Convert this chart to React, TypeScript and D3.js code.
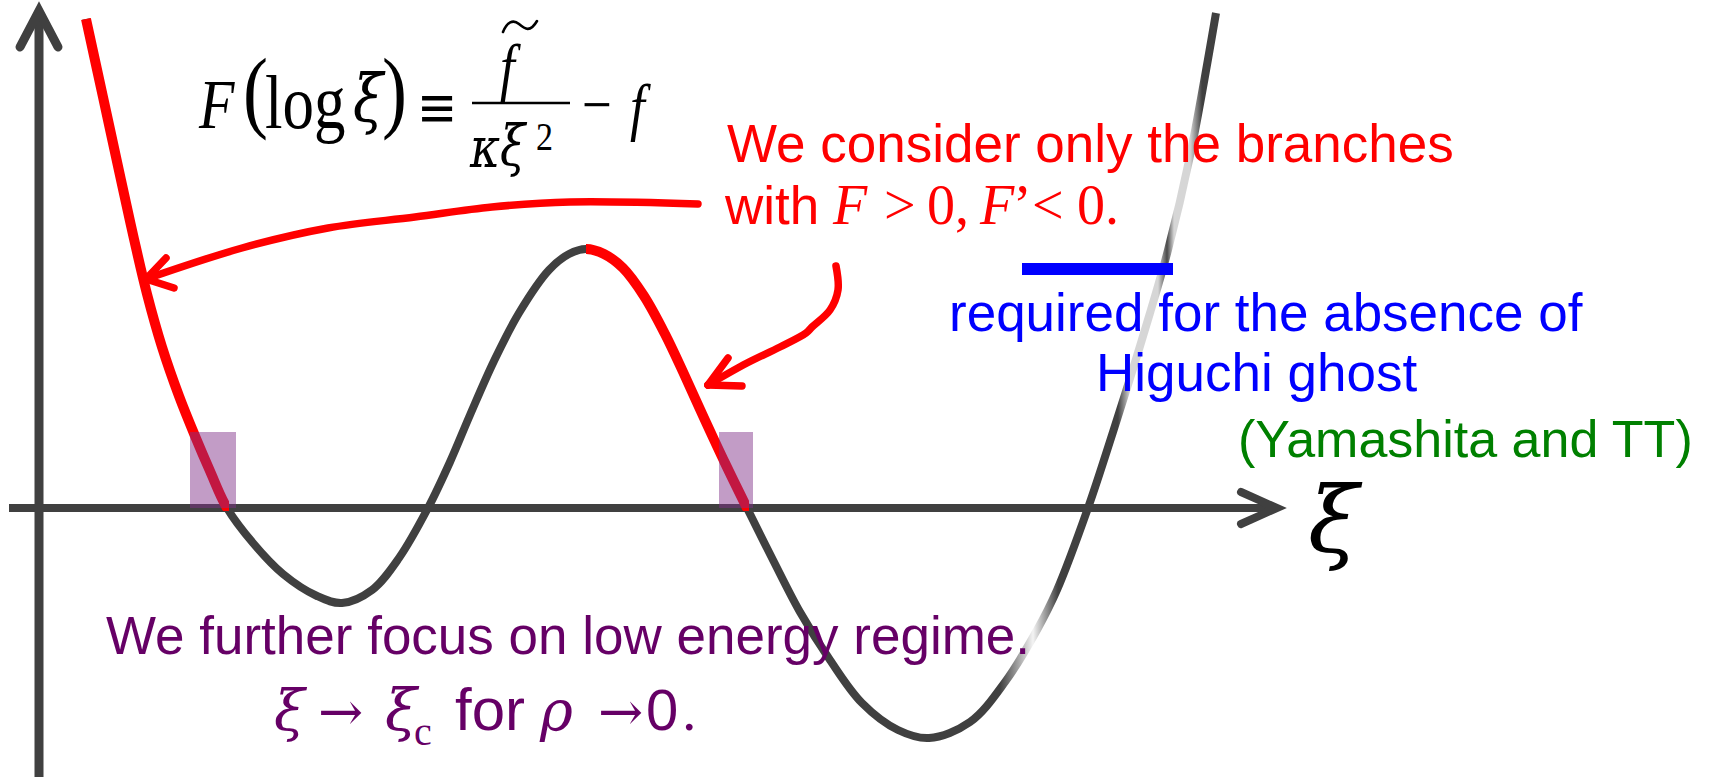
import React from 'react';
import * as d3 from 'd3';

const W = 1714;
const H = 777;

// Sketch of F(log ξ): sampled points (ξ, F)
const curveXi = [0.47, 0.64, 0.82, 0.95, 1.08, 1.23, 1.40, 1.56, 1.71, 1.88, 2.14, 2.44, 2.78, 3.03, 3.33, 3.60, 3.89, 4.11, 4.31, 4.55, 4.80, 5.10, 5.30, 5.47, 5.65, 5.84, 6.05, 6.26, 6.45, 6.65, 6.86, 7.08, 7.34, 7.61, 7.91, 8.23, 8.59, 8.90, 9.31, 9.66, 9.98, 10.18, 10.49, 10.74, 10.93, 11.11, 11.29, 11.51, 11.77];
const curveF = [4.89, 4.11, 3.28, 2.69, 2.14, 1.61, 1.12, 0.72, 0.37, 0, -0.35, -0.66, -0.88, -0.95, -0.82, -0.50, 0, 0.46, 0.93, 1.47, 1.95, 2.38, 2.54, 2.59, 2.54, 2.40, 2.12, 1.74, 1.34, 0.90, 0.45, 0, -0.52, -1.04, -1.52, -1.95, -2.22, -2.30, -2.14, -1.74, -1.22, -0.82, 0, 0.76, 1.36, 1.95, 2.58, 3.52, 4.95];

// Branches with F > 0 and F' < 0 (ξ intervals)
const branchStart = [0.0, 5.47];
const branchEnd = [1.90, 7.10];

// Low-energy windows around the roots
const windowStart = [1.51, 6.80];
const windowEnd = [1.97, 7.14];
const windowTop = 0.76;

// Bound required for the absence of the Higuchi ghost
const ghostXi = [9.83, 11.34];
const ghostF = 2.39;

// Metallic sheen along the rising right branch
const sheenXi = [9.61, 9.94, 10.19, 10.79, 10.91, 11.19, 11.28, 11.35, 11.51, 11.63];
const sheenColor = ['#404040', '#f4f4f4', '#404040', '#404040', '#d6d6d6', '#d6d6d6', '#4a4a4a', '#d6d6d6', '#d6d6d6', '#404040'];

// Annotation arrows (ξ, F)
const arrowAXi = [6.59, 5.31, 4.53, 3.76, 2.89, 2.03, 1.07];
const arrowAF = [3.04, 3.06, 3.01, 2.91, 2.80, 2.60, 2.29];
const arrowAWingXi = [1.27, 1.35];
const arrowAWingF = [2.50, 2.20];

const arrowBXi = [7.97, 7.99, 7.91, 7.73, 7.67, 7.41, 7.08, 6.69];
const arrowBF = [2.42, 2.18, 1.98, 1.81, 1.75, 1.61, 1.45, 1.23];
const arrowBWingXi = [6.89, 7.03];
const arrowBWingF = [1.50, 1.22];

const x = d3.scaleLinear().domain([0, 12.38]).range([39, 1277]);
const y = d3.scaleLinear().domain([0, 4.97]).range([508, 11]);

const SANS = '"Liberation Sans", Arial, sans-serif';
const SERIF = '"Liberation Serif", "Times New Roman", serif';
const GREEK = '"DejaVu Serif", serif';
const AXIS = '#404040';
const RED = '#ff0000';
const PURPLE = '#660066';

const zip = (a: number[], b: number[]) => a.map((v, i) => [v, b[i]] as [number, number]);

const smoothGen = d3
  .line<[number, number]>()
  .x((d) => x(d[0]))
  .y((d) => y(d[1]))
  .curve(d3.curveCatmullRom.alpha(0.5));
const curvePath = smoothGen(zip(curveXi, curveF)) || '';

function Arrow({ xs, fs, wx, wf }: { xs: number[]; fs: number[]; wx: number[]; wf: number[] }) {
  const pts = zip(xs, fs);
  const tip = pts[pts.length - 1];
  const wings = zip(wx, wf);
  return (
    <g fill="none" stroke={RED} strokeWidth={7.5} strokeLinecap="round" strokeLinejoin="round">
      <path d={smoothGen(pts) || ''} />
      {wings.map((w, i) => (
        <line key={i} x1={x(tip[0])} y1={y(tip[1])} x2={x(w[0])} y2={y(w[1])} />
      ))}
    </g>
  );
}

// Glyphs of the definition are set slightly taller than wide
function M({ px, py, size, italic, family, children }: { px: number; py: number; size: number; italic?: boolean; family?: string; children: React.ReactNode }) {
  return (
    <g transform={`translate(${px},${py}) scale(1,1.2)`}>
      <text x={0} y={0} fontFamily={family || SERIF} fontSize={size} fontStyle={italic ? 'italic' : 'normal'} fill="#000">
        {children}
      </text>
    </g>
  );
}

export default function App() {
  const x0 = x(0);
  const y0 = y(0);
  const axisLeft = x(-0.3);
  const axisRight = x(12.38);
  const axisTop = y(4.97);
  return (
    <svg width={W} height={H} style={{ position: 'absolute', left: 0, top: 0, background: '#fff' }}>
      <defs>
        <linearGradient id="sheen" gradientUnits="userSpaceOnUse" x1={0} y1={0} x2={W} y2={0}>
          {sheenXi.map((v, i) => (
            <stop key={i} offset={x(v) / W} stopColor={sheenColor[i]} />
          ))}
        </linearGradient>
        {branchStart.map((b, i) => (
          <clipPath id={`branch${i}`} key={i}>
            <rect x={x(b)} y={0} width={x(branchEnd[i]) - x(b)} height={y0 + 3} />
          </clipPath>
        ))}
      </defs>

      {/* axes */}
      <g stroke={AXIS} fill="none">
        <line x1={axisLeft} x2={axisRight - 2} y1={y0} y2={y0} strokeWidth={8} />
        <polyline points={`${axisRight - 36},${y0 - 16} ${axisRight},${y0} ${axisRight - 36},${y0 + 16}`} strokeWidth={8} strokeLinecap="round" strokeLinejoin="miter" />
        <line x1={x0} x2={x0} y1={H} y2={axisTop + 2} strokeWidth={9} />
        <polyline points={`${x0 - 19},${axisTop + 36} ${x0},${axisTop} ${x0 + 19},${axisTop + 36}`} strokeWidth={9} strokeLinecap="round" strokeLinejoin="miter" />
      </g>

      {/* F(log ξ) */}
      <path d={curvePath} fill="none" stroke="url(#sheen)" strokeWidth={8} />

      {/* highlighted branches */}
      {branchStart.map((_, i) => (
        <path key={i} d={curvePath} fill="none" stroke={RED} strokeWidth={10} clipPath={`url(#branch${i})`} />
      ))}

      {/* low-energy windows */}
      {windowStart.map((s, i) => (
        <rect key={i} x={x(s)} y={y(windowTop)} width={x(windowEnd[i]) - x(s)} height={y0 - y(windowTop)} fill="rgb(128,48,136)" fillOpacity={0.48} />
      ))}

      {/* ghost-free bound */}
      <rect x={x(ghostXi[0])} y={y(ghostF) - 6} width={x(ghostXi[1]) - x(ghostXi[0])} height={12} fill="#0000ff" />

      {/* axis label */}
      <text x={1308} y={552} fontFamily={GREEK} fontStyle="italic" fontSize={92} fill="#000">ξ</text>

      {/* definition */}
      <M px={199} py={128} size={58} italic>F</M>
      <M px={243} py={121} size={75}>(</M>
      <M px={265} py={128} size={63}>log</M>
      <M px={353} py={121} size={55} italic family={GREEK}>ξ</M>
      <M px={382} py={121} size={75}>)</M>
      <M px={417} py={127} size={48} family={GREEK}>≡</M>
      <line x1={472} x2={570} y1={103} y2={103} stroke="#000" strokeWidth={2.6} />
      <M px={500} py={88} size={53} italic>f</M>
      <path d="M503,32 C507,22 513,19 519,24 S530,33 537,21" fill="none" stroke="#000" strokeWidth={2.6} strokeLinecap="round" />
      <M px={470} py={167} size={46} italic family={GREEK}>κ</M>
      <M px={500} py={165} size={46} italic family={GREEK}>ξ</M>
      <M px={536} py={150} size={34}>2</M>
      <M px={582} py={126} size={53}>−</M>
      <M px={630} py={128} size={53} italic>f</M>

      {/* red note */}
      <text x={727} y={162} fontFamily={SANS} fontSize={53} fill={RED}>We consider only the branches</text>
      <text y={224} fill={RED}>
        <tspan x={725} fontFamily={SANS} fontSize={53}>with</tspan>
        <tspan x={833} fontFamily={SERIF} fontStyle="italic" fontSize={56}>F</tspan>
        <tspan x={884} fontFamily={SERIF} fontSize={56}>&gt;</tspan>
        <tspan x={927} fontFamily={SERIF} fontSize={56}>0,</tspan>
        <tspan x={980} fontFamily={SERIF} fontStyle="italic" fontSize={56}>F</tspan>
        <tspan x={1013} fontFamily={SERIF} fontSize={56}>’</tspan>
        <tspan x={1032} fontFamily={SERIF} fontSize={56}>&lt;</tspan>
        <tspan x={1077} fontFamily={SERIF} fontSize={56}>0.</tspan>
      </text>

      {/* blue note */}
      <text x={949} y={331} fontFamily={SANS} fontSize={53} fill="#0000ff">required for the absence of</text>
      <text x={1096} y={391} fontFamily={SANS} fontSize={53} fill="#0000ff">Higuchi ghost</text>
      <text x={1238} y={457} fontFamily={SANS} fontSize={52} fill="#008000">(Yamashita and TT)</text>

      {/* purple note */}
      <text x={106} y={654} fontFamily={SANS} fontSize={53} fill={PURPLE}>We further focus on low energy regime.</text>
      <text y={730} fill={PURPLE}>
        <tspan x={274} fontFamily={GREEK} fontStyle="italic" fontSize={56}>ξ</tspan>
        <tspan x={318} fontFamily={GREEK} fontSize={54}>→</tspan>
        <tspan x={385} fontFamily={GREEK} fontStyle="italic" fontSize={58}>ξ</tspan>
        <tspan x={414} y={745} fontFamily={SERIF} fontSize={40}>c</tspan>
        <tspan x={455} y={730} fontFamily={SANS} fontSize={60}>for</tspan>
        <tspan x={540} fontFamily={GREEK} fontStyle="italic" fontSize={56}>ρ</tspan>
        <tspan x={598} fontFamily={GREEK} fontSize={54}>→</tspan>
        <tspan x={646} fontFamily={SANS} fontSize={58}>0</tspan>
        <tspan x={682} fontFamily={SERIF} fontSize={58}>.</tspan>
      </text>

      {/* arrows */}
      <Arrow xs={arrowAXi} fs={arrowAF} wx={arrowAWingXi} wf={arrowAWingF} />
      <Arrow xs={arrowBXi} fs={arrowBF} wx={arrowBWingXi} wf={arrowBWingF} />
    </svg>
  );
}
